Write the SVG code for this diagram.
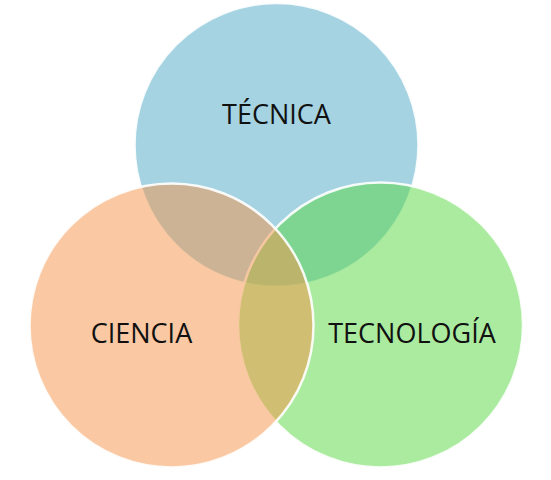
<svg xmlns="http://www.w3.org/2000/svg" width="551" height="480" viewBox="0 0 551 480">
<style>
.c{stroke:#ffffff;stroke-width:2.5;stroke-opacity:0.9}
.t{font-family:"Open Sans","Liberation Sans",sans-serif;font-size:27px;fill:#111111;text-anchor:middle}
</style>
<rect width="551" height="480" fill="#ffffff"/>
<g id="tecnica">
<circle class="c" cx="276.5" cy="145" r="142" fill="#4ba7c5" fill-opacity="0.5"/>
<text class="t" x="276.5" y="124">TÉCNICA</text>
</g>
<g id="tecnologia">
<circle class="c" cx="380.5" cy="325" r="142.5" fill="#57d73f" fill-opacity="0.5"/>
</g>
<g id="ciencia">
<circle class="c" cx="171.5" cy="325.5" r="142" fill="#f59347" fill-opacity="0.5"/>
</g>
<g id="labels">
<text class="t" x="141.5" y="343">CIENCIA</text>
<text class="t" x="412" y="343">TECNOLOGÍA</text>
</g>
<g id="connectors"/>
</svg>
